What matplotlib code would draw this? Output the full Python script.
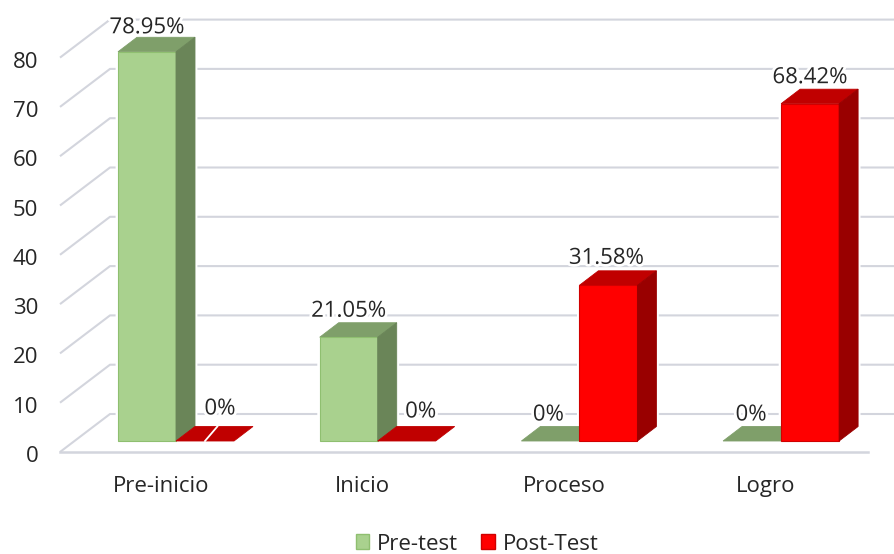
import matplotlib
matplotlib.use("Agg")
import matplotlib.pyplot as plt
import matplotlib.patheffects as pe
from matplotlib.patches import Polygon, Patch
from matplotlib.transforms import ScaledTranslation

plt.rcParams['font.family'] = ['Open Sans', 'DejaVu Sans']

categories = ['Pre-inicio', 'Inicio', 'Proceso', 'Logro']
pre_test = [78.95, 21.05, 0, 0]
post_test = [0, 0, 31.58, 68.42]
pre_labels = ['78.95%', '21.05%', '0%', '0%']
post_labels = ['0%', '0%', '31.58%', '68.42%']
y_ticks = [0, 10, 20, 30, 40, 50, 60, 70, 80]

W, H = 894, 554
PX_X = 201.7           # px per category
PX_Y = 4.93            # px per value unit
X0 = 176               # px of first group centre
LEFT, FLOOR = 60, 452  # px of the chart's front corner

BAR_W = 58 / PX_X
DEPTH_X, DEPTH_Y = 19 / PX_X, 14.5 / PX_Y
WALL_X, WALL_Y = 50 / PX_X, 38 / PX_Y
BASE = 11 / PX_Y
FRONT_END = (868 - X0) / PX_X

GREEN = ('#A9D18E', '#7F9F6A', '#6A8558', '#8FBF70')
RED = ('#FF0000', '#C00000', '#990000', '#D00000')
GRID = '#D3D5DD'
TEXT = '#262626'
FS = 16

fig = plt.figure(figsize=(W / 100, H / 100), dpi=100)
ax = fig.add_axes([LEFT / W, 1 - FLOOR / H, 1 - LEFT / W, FLOOR / H])
ax.set_xlim((LEFT - X0) / PX_X, (W - X0) / PX_X)
ax.set_ylim(0, FLOOR / PX_Y)
for s in ax.spines.values():
    s.set_visible(False)
ax.patch.set_alpha(0)

x_left = ax.get_xlim()[0]
x_right = ax.get_xlim()[1]

# walls / gridlines
for v in y_ticks:
    ax.plot([x_left, x_left + WALL_X, x_right], [v, v + WALL_Y, v + WALL_Y],
            color=GRID, lw=1.5, zorder=1, clip_on=False, solid_capstyle='butt')
ax.plot([x_left, FRONT_END], [0, 0], color=GRID, lw=1.8, zorder=1, clip_on=False)


def bar3d(x0, value, colors, z):
    x1 = x0 + BAR_W
    y0 = BASE
    y1 = BASE + value
    dx, dy = DEPTH_X, DEPTH_Y
    front = [(x0, y0), (x1, y0), (x1, y1), (x0, y1)]
    top = [(x0, y1), (x1, y1), (x1 + dx, y1 + dy), (x0 + dx, y1 + dy)]
    side = [(x1, y0), (x1 + dx, y0 + dy), (x1 + dx, y1 + dy), (x1, y1)]
    if value > 0:
        hull = [(x0, y0), (x1, y0), (x1 + dx, y0 + dy), (x1 + dx, y1 + dy),
                (x0 + dx, y1 + dy), (x0, y1)]
        ax.add_patch(Polygon(hull, closed=True, fc='white', ec='white', lw=3.5, zorder=2))
        ax.add_patch(Polygon(front, closed=True, fc=colors[0], ec=colors[3], lw=0.8, zorder=z + 0.1))
        ax.add_patch(Polygon(side, closed=True, fc=colors[2], ec=colors[2], lw=0.6, zorder=z + 0.1))
    ax.add_patch(Polygon(top, closed=True, fc=colors[1], ec=colors[1], lw=0.6, zorder=z))


for i in range(len(categories)):
    bar3d(i - BAR_W, pre_test[i], GREEN, 3 + i)
    bar3d(i, post_test[i], RED, 3.5 + i)

# small white nick in the first flat red bar
ax.plot([BAR_W * 0.5, BAR_W * 0.5 + DEPTH_X * 0.65], [BASE, BASE + DEPTH_Y],
        color='white', lw=1.3, zorder=8)

# data labels: pixel nudges from the bar's front top edge
pre_nudges = [(0, 24), (0, 26), (-2, 26), (-1, 26)]
post_nudges = [(15, 32), (14, 29), (-2, 27), (0, 26)]
halo = [pe.withStroke(linewidth=4, foreground='white')]
for i in range(len(categories)):
    dxp, dyp = pre_nudges[i]
    ax.text(i - BAR_W / 2 + dxp / PX_X, BASE + pre_test[i] + dyp / PX_Y, pre_labels[i],
            ha='center', va='center', fontsize=FS, color=TEXT, zorder=10, path_effects=halo)
    dxp, dyp = post_nudges[i]
    ax.text(i + BAR_W / 2 + dxp / PX_X, BASE + post_test[i] + dyp / PX_Y, post_labels[i],
            ha='center', va='center', fontsize=FS, color=TEXT, zorder=10, path_effects=halo)

# axes
ax.set_yticks(y_ticks)
ax.set_yticklabels([str(v) for v in y_ticks], fontsize=FS, color=TEXT)
ax.tick_params(axis='y', length=0, pad=15.5)
down = ScaledTranslation(0, -2 / 100, fig.dpi_scale_trans)
for lab in ax.get_yticklabels():
    lab.set_transform(lab.get_transform() + down)
ax.set_xticks([i - 15 / PX_X for i in range(len(categories))])
ax.set_xticklabels(categories, fontsize=FS, color=TEXT)
ax.tick_params(axis='x', length=0, pad=17.5)

handles = [Patch(fc=GREEN[0], ec=GREEN[3], label='Pre-test'),
           Patch(fc=RED[0], ec=RED[3], label='Post-Test')]
fig.legend(handles=handles, ncol=2, frameon=False, fontsize=FS,
           labelcolor=TEXT, loc='center', bbox_to_anchor=(477 / W, 1 - 544 / H),
           handlelength=0.62, handleheight=0.62, handletextpad=0.33, columnspacing=1.05,
           borderpad=0)

fig.savefig('out.png', dpi=100)
